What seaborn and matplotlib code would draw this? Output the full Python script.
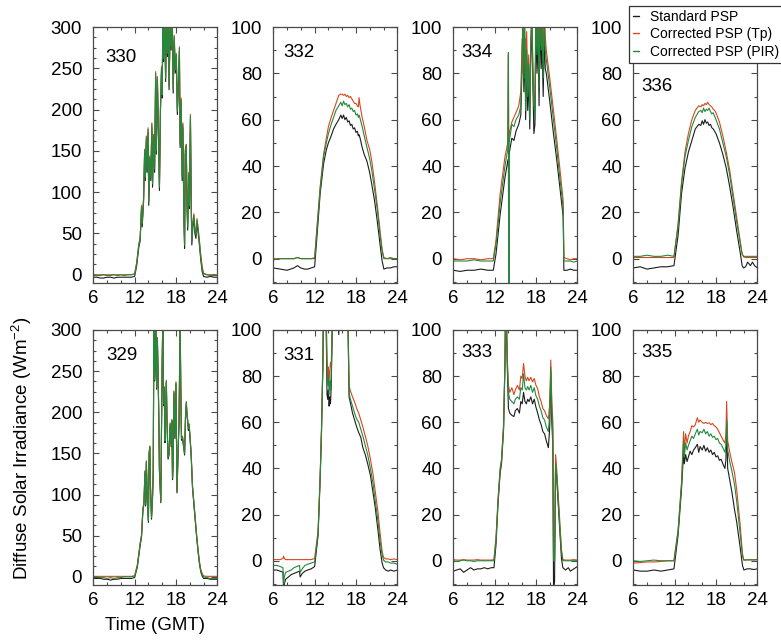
import matplotlib
matplotlib.use("Agg")
import matplotlib.pyplot as plt
import pandas as pd
import seaborn as sns
from matplotlib.ticker import MultipleLocator
from matplotlib.lines import Line2D

sns.set_theme(style="ticks")
plt.rcParams["font.family"] = ["Liberation Sans", "DejaVu Sans"]
plt.rcParams["mathtext.default"] = "regular"
plt.rcParams["text.color"] = "black"

SERIES = ["Standard PSP", "Corrected PSP (Tp)", "Corrected PSP (PIR)"]
COLORS = ["#1c1c1c", "#d8461f", "#23893c"]

# ---------------- Day 330 ----------------
t_330 = [6.0, 6.5, 7.0, 7.5, 8.0, 8.5, 9.0, 9.5, 10.0, 10.5, 11.0, 11.5,
         12.0, 12.3, 12.6, 12.8, 13.0, 13.1, 13.3, 13.45, 13.55, 13.7,
         13.8, 13.95, 14.05, 14.2, 14.35, 14.5, 14.6, 14.75, 14.9, 15.05,
         15.15, 15.3, 15.45, 15.6, 15.75, 15.9, 16.0, 16.1, 16.2, 16.35,
         16.5, 16.6, 16.75, 16.9, 17.0, 17.15, 17.3, 17.45, 17.6, 17.75,
         17.9, 18.05, 18.2, 18.35, 18.5, 18.6, 18.75, 18.9, 19.0, 19.15,
         19.25, 19.35, 19.5, 19.6, 19.7, 19.85, 19.95, 20.1, 20.2, 20.3,
         20.45, 20.6, 20.75, 20.9, 21.05, 21.2, 21.4, 21.6, 21.8, 22.0,
         22.5, 23.0, 23.5, 24.0]
k_330 = [-3, -3, -4, -4, -3, -3, -4, -3, -3, -3, -3, -3,
         -2, 11, 33, 41, 79, 58, 89, 146, 114, 162,
         124, 172, 84, 138, 114, 178, 106, 164, 124, 240,
         146, 234, 174, 102, 198, 246, 214, 314, 258, 304,
         234, 300, 264, 312, 224, 298, 272, 318, 220, 284,
         244, 262, 194, 228, 270, 154, 208, 114, 178, 68,
         32, 146, 152, 84, 54, 118, 80, 188, 94, 36,
         58, 68, 50, 44, 62, 52, 36, 18, 4, -2,
         -3, -2, -3, -3]
r_330 = [0, 0, 0, 0, 0, 0, 0, 0, 0, 0, 0, 0,
         1, 15, 37, 45, 84, 63, 93, 152, 120, 168,
         130, 178, 90, 144, 120, 184, 112, 170, 130, 246,
         152, 240, 180, 108, 204, 252, 220, 320, 264, 310,
         240, 306, 270, 318, 230, 304, 278, 324, 226, 290,
         250, 268, 200, 234, 276, 160, 214, 120, 184, 74,
         38, 152, 158, 90, 60, 124, 86, 194, 100, 42,
         64, 74, 56, 50, 68, 58, 42, 24, 10, 2,
         0, 0, 0, 0]
g_330 = [0, -1, -1, 0, -1, -1, 0, -1, 0, -1, 0, 0,
         1, 14, 36, 44, 82, 62, 92, 150, 118, 166,
         128, 176, 88, 142, 118, 182, 110, 168, 128, 244,
         150, 238, 178, 106, 202, 250, 218, 318, 262, 308,
         238, 304, 268, 316, 228, 302, 276, 322, 224, 288,
         248, 266, 198, 232, 274, 158, 212, 118, 182, 72,
         36, 150, 156, 88, 58, 122, 84, 192, 98, 40,
         62, 72, 54, 48, 66, 56, 40, 22, 8, 1,
         0, -1, 0, -1]

# ---------------- Day 329 ----------------
t_329 = [6.0, 6.5, 7.0, 7.5, 8.0, 8.5, 9.0, 9.5, 10.0, 10.5, 11.0, 11.5,
         12.0, 12.4, 12.8, 13.0, 13.2, 13.35, 13.5, 13.6, 13.7, 13.85,
         14.0, 14.1, 14.2, 14.3, 14.45, 14.6, 14.7, 14.8, 14.9, 15.0,
         15.1, 15.2, 15.3, 15.4, 15.5, 15.6, 15.8, 15.9, 16.0, 16.1,
         16.2, 16.3, 16.4, 16.5, 16.6, 16.7, 16.85, 17.0, 17.15, 17.3,
         17.4, 17.5, 17.6, 17.7, 17.85, 18.0, 18.15, 18.3, 18.45, 18.6,
         18.7, 18.8, 18.95, 19.1, 19.25, 19.4, 19.5, 19.6, 19.7, 19.8,
         19.9, 20.0, 20.2, 20.4, 20.6, 20.8, 21.0, 21.2, 21.4, 21.6,
         21.8, 22.0, 22.5, 23.0, 23.5, 24.0]
k_329 = [-2, -2, -2, -3, -3, -4, -3, -3, -2, -2, -2, -2,
         -1, 12, 38, 48, 80, 88, 126, 86, 138, 90,
         66, 148, 156, 108, 70, 96, 126, 318, 238, 258,
         308, 228, 288, 248, 198, 128, 90, 178, 260, 318,
         208, 228, 163, 198, 236, 188, 143, 148, 184, 158,
         188, 118, 138, 223, 168, 234, 102, 148, 188, 313,
         228, 166, 168, 158, 148, 198, 210, 196, 188, 178,
         183, 173, 148, 108, 88, 68, 48, 31, 16, 6,
         1, -2, -2, -3, -3, -3]
r_329 = [0.5, 0.5, 0.5, 0.5, 0.5, 0.5, 0.5, 0.5, 0.5, 0.5, 0.5, 0.5,
         1, 15, 41, 51, 83, 91, 129, 89, 141, 93,
         69, 151, 159, 111, 73, 99, 129, 321, 241, 261,
         311, 231, 291, 251, 201, 131, 93, 181, 263, 321,
         211, 231, 166, 201, 239, 191, 146, 151, 187, 161,
         191, 121, 141, 226, 171, 237, 105, 151, 191, 316,
         231, 169, 171, 161, 151, 201, 213, 199, 191, 181,
         186, 176, 151, 111, 91, 71, 51, 34, 19, 9,
         4, 1, 0.5, 0.5, 0.5, 0.5]
g_329 = [0, 0, -1, -1, -2, -1, -2, -1, -1, 0, 0, 0,
         1, 14, 40, 50, 82, 90, 128, 88, 140, 92,
         68, 150, 158, 110, 72, 98, 128, 320, 240, 260,
         310, 230, 290, 250, 200, 130, 92, 180, 262, 320,
         210, 230, 165, 200, 238, 190, 145, 150, 186, 160,
         190, 120, 140, 225, 170, 236, 104, 150, 190, 315,
         230, 168, 170, 160, 150, 200, 212, 198, 190, 180,
         185, 175, 150, 110, 90, 70, 50, 33, 18, 8,
         3, 0, -1, -2, -2, -2]

# ---------------- Day 332 ----------------
t_332 = [6, 7, 8, 9, 9.5, 10, 10.5, 11, 11.5,
         12.0, 12.4, 12.8, 13.3, 13.7, 14.0, 14.4, 14.75, 15.1, 15.5,
         15.8, 16.0, 16.2, 16.4, 16.6, 16.8, 17.0, 17.2, 17.4, 17.6,
         17.8, 18.0, 18.2, 18.35, 18.45, 18.6, 18.9, 19.2, 19.6, 20.0,
         20.3, 20.7, 21.1, 21.5, 21.8, 22.05, 22.5, 23, 23.5, 24]
k_332 = [-4, -4.5, -5, -4, -3, -4, -4.5, -4.5, -4,
         -3.5, 12, 28, 41, 47, 50, 53, 56, 58, 60,
         62, 60.5, 62, 60, 61, 59, 59.5, 57.5, 58, 56,
         56.5, 54.5, 55, 53, 53.5, 52, 48, 45, 42, 37,
         32, 25, 16, 6, -1, -4.5, -4, -4, -3.5, -3.5]
r_332 = [0, 0, 0, 0, 0.5, 0, 0, 0, 0,
         0.5, 16, 31, 45, 52, 57, 61, 64, 67, 70.5,
         71, 71, 70.5, 71, 70, 70.5, 69.5, 70, 69, 68,
         67, 67, 66, 65.5, 69.5, 66, 61, 57, 51, 47,
         42, 33, 23, 12, 4, 0.5, 0, 0, 0, 0]
g_332 = [-0.5, 0, 0, 0, 0.5, 0, 0, 0, 0,
         0, 15, 30, 44, 50, 54, 58, 61, 64, 66,
         67.5, 66, 68, 66.5, 67, 65.5, 66.5, 64.5, 65, 63.5,
         64, 62, 62.5, 61, 62, 60.5, 57, 53, 48, 43,
         38, 30, 21, 10, 3, 0, 0, 0.5, 0, 0]

# ---------------- Day 331 ----------------
t_331 = [6.0, 6.5, 7.0, 7.4, 7.5, 7.6, 7.8, 8.2, 8.6, 9.0, 9.4,
         9.8, 9.9, 10.2, 10.6, 11.0, 11.5, 12.0, 12.5, 12.8, 13.0,
         13.2, 13.3, 13.5, 13.7, 13.8, 13.9, 14.0, 14.1, 14.2, 14.3,
         14.4, 14.5, 14.7, 15.0, 15.5, 16.0, 16.5, 16.8, 17.0, 17.15,
         17.5, 17.9, 18.1, 18.4, 18.7, 19.0, 19.35, 19.7, 20.1, 20.5,
         20.8, 21.2, 21.5, 21.8, 22.0, 22.3, 22.7, 23.0, 23.5, 24.0]
k_331 = [-4, -4, -4.5, -5, -13, -10, -8, -7, -6, -5.5, -5,
         -4.5, -7, -5.5, -4.5, -4, -3.5, -2.5, 11, 35, 56,
         85, 115, 136, 95, 72, 70, 74, 67, 71, 68,
         75, 90, 124, 135, 98, 135, 116, 110, 71, 69,
         64, 60, 58, 55.5, 53.5, 49, 46, 42, 37, 29,
         23, 13, 5, -1, -3, -4, -4.5, -4, -4.5, -4]
r_331 = [0.5, 0.5, 0.5, 1, 2, 1, 0.5, 0.5, 0.5, 0.5, 0.5,
         0.5, 0.5, 0.5, 0.5, 0.5, 0.5, 1, 13, 37, 58,
         87, 120, 140, 105, 88, 80, 84, 78, 82, 86,
         84, 95, 130, 140, 150, 140, 120, 115, 76, 74,
         71, 68, 66, 64, 61, 58, 54, 50, 44, 37,
         30, 21, 12, 4, 1.5, 0.8, 0.8, 0.5, 0.8, 0.5]
g_331 = [-2, -2, -2.5, -3, -10, -7, -5, -4.5, -4, -3, -2.5,
         -2, -5, -3.5, -2, -1.5, -1, -0.5, 12, 36, 57,
         86, 118, 138, 100, 82, 76, 80, 72, 78, 74,
         80, 92, 128, 138, 148, 138, 118, 112, 73, 70.5,
         67, 63, 61.5, 60, 57, 54, 50, 46, 40, 33,
         26, 17, 8.5, 2.5, 0.3, -0.5, -0.5, -1, -1, -1.5]

# ---------------- Day 334 ----------------
t_334 = [6, 7, 8, 9, 10, 11, 11.8,
         12.2, 12.8, 13.5, 13.9, 14.0, 14.05, 14.1, 14.2, 14.5, 14.8,
         15.1, 15.5, 15.8, 16.0, 16.1, 16.25, 16.4, 16.5, 16.65, 16.8,
         16.95, 17.1, 17.25, 17.4, 17.55, 17.7, 17.85, 18.0, 18.15, 18.3,
         18.45, 18.6, 18.75, 18.9, 19.05, 19.2, 19.35, 19.5, 20.0, 20.5,
         21.0, 21.5, 21.95, 22.05, 22.5, 23, 23.5, 24]
k_334 = [-5, -5.5, -5, -5, -4.5, -5, -5,
         2, 19, 35, 42, 43, -15, 45, 47, 52, 51,
         55, 58, 62, 85, 100, 72, 95, 60, 85, 64,
         78, 56, 88, 100, 75, 54, 58, 102, 80, 96,
         66, 105, 82, 92, 70, 96, 82, 80, 68, 55,
         43, 30, 18, -5, -5, -4.5, -5, -5]
r_334 = [0, -0.5, 0, 0, -0.5, 0, 0,
         8, 28, 44, 50, 88, 52, 54, 55, 59, 61,
         63, 66, 72, 95, 80, 105, 90, 70, 98, 75,
         88, 68, 92, 108, 80, 66, 72, 110, 95, 108,
         80, 112, 92, 106, 85, 110, 96, 90, 78, 65,
         52, 38, 25, 0.5, 0, -0.5, 0, 0]
g_334 = [-1, -1, -1, -0.5, -1, -1, -1,
         6, 24, 40, 47, 89, -15, 50, 52, 58, 57,
         60, 62, 66, 90, 105, 78, 100, 64, 90, 70,
         84, 60, 96, 104, 84, 68, 60, 106, 88, 104,
         74, 110, 90, 100, 78, 104, 90, 86, 74, 61,
         48, 34, 22, -1, -1, -1, -1.5, -1]

# ---------------- Day 333 ----------------
t_333 = [6.0, 6.5, 7.0, 7.5, 8.0, 8.5, 9.0, 9.5, 10.0, 10.5, 11.0, 11.5,
         11.9, 12.2, 12.5, 12.8, 13.0, 13.3, 13.5, 13.6, 13.7, 13.85,
         14.0, 14.2, 14.5, 14.8, 15.0, 15.3, 15.6, 15.8, 16.0, 16.2,
         16.4, 16.6, 16.8, 17.0, 17.25, 17.5, 17.75, 18.0, 18.25, 18.5,
         18.75, 19.0, 19.25, 19.5, 19.8, 20.0, 20.15, 20.3, 20.45, 20.55,
         20.7, 20.85, 21.0, 21.2, 21.5, 21.7, 21.9, 22.3, 22.7, 23.0,
         23.5, 24.0]
k_333 = [-4.5, -4, -3.5, -5, -4, -3, -4, -3.5, -3.5, -3, -3.5, -3,
         -3, 7, 25, 38, 42, 57, 85, 112, 104, 82,
         66, 64, 63, 62.5, 65, 66, 64, 69, 68, 73,
         69, 68, 70, 69, 71, 68, 70, 66.5, 64, 61,
         59, 56, 55, 52, 49, 58, 82, 60, 50, -12,
         -9, 43, 36, 26, 11, 1, -3, -4, -3, -4.5,
         -3.5, -2.5]
r_333 = [0.5, 0.3, 0.3, 0.5, 0.3, 0.3, 0.3, 0.5, 0.3, 0.3, 0.3, 0.3,
         0.5, 10, 27, 40, 44, 59, 87, 115, 108, 87,
         76, 73, 75, 72, 74, 76, 74, 80, 79, 85.5,
         80, 78, 79.5, 78, 79.5, 77.5, 79, 76, 74.5, 71,
         69, 66, 65, 63, 61.5, 68, 87, 69, 60, 0.5,
         0.5, 46, 40, 30, 15, 5, 0.5, 0.3, 0.3, 0.3,
         0.5, 0.3]
g_333 = [0, -0.3, 0, 0.3, 0, 0, -0.3, 0, 0, 0, 0, 0,
         0, 9.5, 26.5, 39.5, 43.5, 58.5, 86, 114, 106, 85,
         73, 70, 69, 68, 70, 71, 70, 75, 74, 81,
         75, 74, 75.5, 74, 76, 73, 75, 71.5, 70, 67,
         65, 62, 61, 58, 56, 64, 84, 66, 56, 0,
         0, 42, 38, 28, 13, 4, 0, 0, 0, 0,
         0, 0]

# ---------------- Day 336 ----------------
t_336 = [6, 7, 8, 9, 10, 11, 11.9,
         12.5, 13.0, 13.5, 14.0, 14.5, 15.0, 15.5,
         15.8, 16.0, 16.2, 16.4, 16.6, 16.8, 17.0, 17.2, 17.4, 17.6,
         17.8, 18.0, 18.5, 19.0, 19.5, 20.0, 20.5, 21.0, 21.5, 21.8,
         22.0, 22.3, 22.6, 23.0, 23.3, 23.6, 24]
k_336 = [-4, -3.5, -4.5, -4, -3.5, -3.5, -3,
         10, 28, 39, 46, 51, 56, 58,
         57.5, 59.5, 58, 60, 58.5, 59, 57.5, 58, 56.5, 56,
         55, 54, 50, 45, 39, 31, 22, 12, 3, -3,
         -4, -3.5, -1.5, -3, -1.5, -3, -4]
r_336 = [0.5, 0.5, 0.5, 0.5, 0.5, 0.5, 0.5,
         15, 33, 46, 54, 60, 64, 66,
         65.5, 66.5, 66, 67, 66.5, 67.5, 66.5, 66, 65.5, 64.5,
         64, 63, 59, 53, 46, 38, 28, 18, 8, 2,
         0.8, 0.5, 0.5, 0.5, 0.5, 0.5, 0.5]
g_336 = [1, 1, 1.5, 1, 1, 1.5, 1,
         14, 32, 44, 51, 57, 61, 63.5,
         64, 63, 65, 63.5, 64.5, 64, 65, 63.5, 62.5, 63,
         61.5, 60, 56, 50, 44, 36, 26, 16, 7, 2,
         1, 1, 1, 1, 1, 1, 1]

# ---------------- Day 335 ----------------
t_335 = [6, 7, 8, 9, 10, 11, 11.9,
         12.5, 13.0, 13.3, 13.4, 13.6, 13.8, 14.0, 14.25, 14.5, 14.75,
         15.0, 15.3, 15.5, 15.7, 16.0, 16.25, 16.5, 16.75, 17.0, 17.25,
         17.5, 17.75, 18.0, 18.25, 18.5, 18.75, 19.0, 19.3, 19.45, 19.55,
         19.7, 20.0, 20.3, 20.7, 21.0, 21.5, 21.85, 22.05, 22.5, 23,
         23.5, 24]
k_335 = [-4, -4.5, -4.5, -4, -4.5, -4, -3.5,
         11, 31, 47, 42, 46, 43, 45, 47.5, 46, 48,
         49, 50.5, 47, 49.5, 48, 50, 47.5, 49, 47, 48,
         46, 47, 45, 45.5, 43.5, 44, 42, 40, 44, 60,
         40, 35, 30, 22, 17, 6, -2, -4, -3.5, -3.5,
         -3.8, -3.5]
r_335 = [-1, -0.8, -0.5, -0.5, -0.3, 0, 0,
         13, 34, 56, 48, 55, 51, 54, 56, 58.5, 58,
         59, 62, 60, 61, 60, 59.5, 60, 59.5, 59.8, 59,
         59.5, 58.5, 58, 57, 55.5, 54, 52.5, 51, 55, 69,
         52, 47, 43, 38, 31, 16, 3, 0.3, 0.5, 0.3,
         0.5, 0.5]
g_335 = [0, -0.3, 0, 0.3, 0, 0, 0,
         13, 33, 52, 45, 51, 48, 50, 52, 54, 53,
         55, 57, 54.5, 56, 55.5, 57, 55, 56, 54, 55,
         53.5, 54, 52.5, 53, 51, 50.5, 49, 47, 50, 61,
         48, 43, 39, 33, 26, 12, 2, 0.3, 0.3, 0.5,
         0.3, 0.5]

PANELS = {
    330: (t_330, k_330, r_330, g_330, 300),
    332: (t_332, k_332, r_332, g_332, 100),
    334: (t_334, k_334, r_334, g_334, 100),
    336: (t_336, k_336, r_336, g_336, 100),
    329: (t_329, k_329, r_329, g_329, 300),
    331: (t_331, k_331, r_331, g_331, 100),
    333: (t_333, k_333, r_333, g_333, 100),
    335: (t_335, k_335, r_335, g_335, 100),
}
GRID = [[330, 332, 334, 336], [329, 331, 333, 335]]
LABEL_POS = {330: (0.094, 0.88), 332: (0.08, 0.90), 334: (0.068, 0.90),
             336: (0.068, 0.767), 329: (0.108, 0.90), 331: (0.08, 0.90),
             333: (0.068, 0.91), 335: (0.068, 0.91)}

W, H = 781, 640
COL_LEFT = [93.3, 273.3, 453.3, 633.3]
AX_W = 124
ROW_SPAN = [(27, 283), (330, 585)]
FRAME = "#4a4a4a"

fig = plt.figure(figsize=(W / 100, H / 100), dpi=100)
fig.patch.set_facecolor("white")

for row, days in enumerate(GRID):
    top, bot = ROW_SPAN[row]
    for col, day in enumerate(days):
        ax = fig.add_axes([COL_LEFT[col] / W, 1 - bot / H, AX_W / W, (bot - top) / H])
        t, k, r, g, ymax = PANELS[day]
        for vals, color, name in zip((k, r, g), COLORS, SERIES):
            df = pd.DataFrame({"time": t, "flux": vals})
            sns.lineplot(data=df, x="time", y="flux", ax=ax, color=color,
                         linewidth=0.8, estimator=None, sort=False,
                         legend=False, label=name)
        ax.set_xlim(6, 24)
        ax.set_xticks([6, 12, 18, 24])
        ax.xaxis.set_minor_locator(MultipleLocator(2))
        if ymax == 300:
            ax.set_ylim(-10, 300)
            ax.set_yticks(range(0, 301, 50))
            ax.yaxis.set_minor_locator(MultipleLocator(12.5))
        else:
            ax.set_ylim(-10.5, 100)
            ax.set_yticks(range(0, 101, 20))
            ax.yaxis.set_minor_locator(MultipleLocator(10))
        ax.set_xlabel("")
        ax.set_ylabel("")
        ax.tick_params(which="both", direction="in", bottom=True, left=True,
                       top=True, right=True, color=FRAME, width=0.8,
                       labelsize=13.5, labelcolor="black")
        ax.tick_params(which="major", length=4.5)
        ax.tick_params(which="minor", length=2.5)
        ax.tick_params(axis="x", pad=5)
        ax.tick_params(axis="y", pad=8)
        for sp in ax.spines.values():
            sp.set_visible(True)
            sp.set_color(FRAME)
            sp.set_linewidth(0.9)
        lx, ly = LABEL_POS[day]
        ax.text(lx, ly, str(day), transform=ax.transAxes, fontsize=13.5,
                color="black", ha="left", va="center")

handles = [Line2D([], [], color=c, linewidth=1.0) for c in COLORS]
leg = fig.legend(handles, SERIES, loc="lower left",
                 bbox_to_anchor=(629 / W, 1 - 63 / H), frameon=True,
                 fancybox=False, edgecolor="#333333", framealpha=1,
                 fontsize=10, handlelength=0.4, handletextpad=0.8,
                 borderpad=0.3, labelspacing=0.25, borderaxespad=0)
leg.get_frame().set_linewidth(0.9)
for txt in leg.get_texts():
    txt.set_color("black")

fig.text(22 / W, 1 - 448 / H, "Diffuse Solar Irradiance (Wm$^{-2}$)",
         rotation=90, ha="center", va="center", fontsize=13.5, color="black")
fig.text(155 / W, 1 - 625 / H, "Time (GMT)", ha="center", va="center",
         fontsize=13.5, color="black")

fig.savefig("out.png", dpi=100, facecolor="white")
